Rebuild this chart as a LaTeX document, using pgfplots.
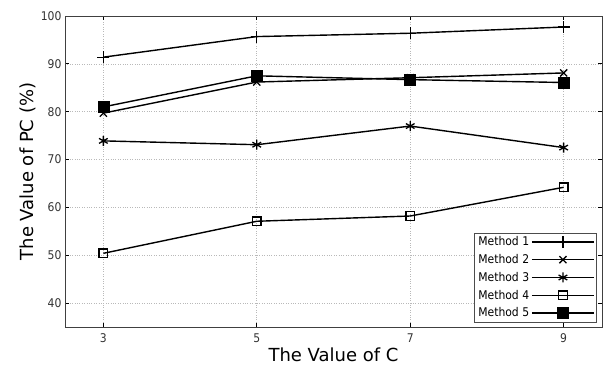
\documentclass[border=0pt]{standalone}
\usepackage{pgfplots}
\pgfplotsset{compat=1.18}
\usepackage{fontspec}
\setmainfont{DejaVu Sans}
\newfontfamily\condfont{DejaVu Sans Condensed}
\begin{document}
\begin{tikzpicture}
\begin{axis}[
  scale only axis,
  width=537pt, height=311pt,
  at={(0,0)}, anchor=south west,
  xmin=2.5, xmax=9.5, ymin=35, ymax=100,
  xtick={3,5,7,9}, ytick={40,50,60,70,80,90,100},
  /pgf/number format/assume math mode=true,
  tick label style={font=\condfont\fontsize{12}{13}\selectfont, text=black!80},
  xticklabel style={yshift=-3pt},
  xlabel={The Value of C}, ylabel={The Value of PC (\%)},
  label style={font=\fontsize{18}{20}\selectfont},
  xlabel style={yshift=2pt},
  ylabel style={yshift=-2pt},
  grid=major,
  grid style={dotted, gray!55, line width=0.6pt},
  axis line style={black!75, line width=1pt},
  tick style={black, line width=0.9pt},
  major tick length=4pt,
  tick align=inside,
  legend style={at={(0.99,0.015)}, anchor=south east, font=\condfont\fontsize{12}{13}\selectfont, draw=black!70, line width=0.8pt, inner sep=1.5pt, row sep=3.2pt, cells={anchor=west}},
  legend plot pos=right,
  legend image code/.code={\draw[#1, line width=1.6pt] (0pt,0pt) -- (62pt,0pt); \draw[#1, mark repeat=1] plot coordinates {(31pt,0pt)};},
]
\addplot[black, line width=1.4pt, mark=+, mark size=6pt, mark options={solid, line width=1.2pt}] coordinates {(3,91.4) (5,95.7) (7,96.4) (9,97.7)};
\addlegendentry{Method 1}
\addplot[black, line width=1.4pt, mark=x, mark size=5pt, mark options={solid, line width=1.3pt}] coordinates {(3,79.7) (5,86.2) (7,87.1) (9,88.1)};
\addlegendentry{Method 2}
\addplot[black, line width=1.4pt, mark=asterisk, mark size=5pt, mark options={solid, line width=1.3pt}] coordinates {(3,73.9) (5,73.1) (7,77.0) (9,72.5)};
\addlegendentry{Method 3}
\addplot[black, line width=1.4pt, mark=square, mark size=4.3pt, mark options={solid, line width=1.3pt}] coordinates {(3,50.4) (5,57.1) (7,58.2) (9,64.2)};
\addlegendentry{Method 4}
\addplot[black, line width=1.4pt, mark=square*, mark size=5.5pt, mark options={solid, line width=0.5pt}] coordinates {(3,81.0) (5,87.5) (7,86.7) (9,86.1)};
\addlegendentry{Method 5}
\end{axis}
\path[use as bounding box] (-65pt,-49pt) rectangle (539pt,327pt);
\end{tikzpicture}
\end{document}
